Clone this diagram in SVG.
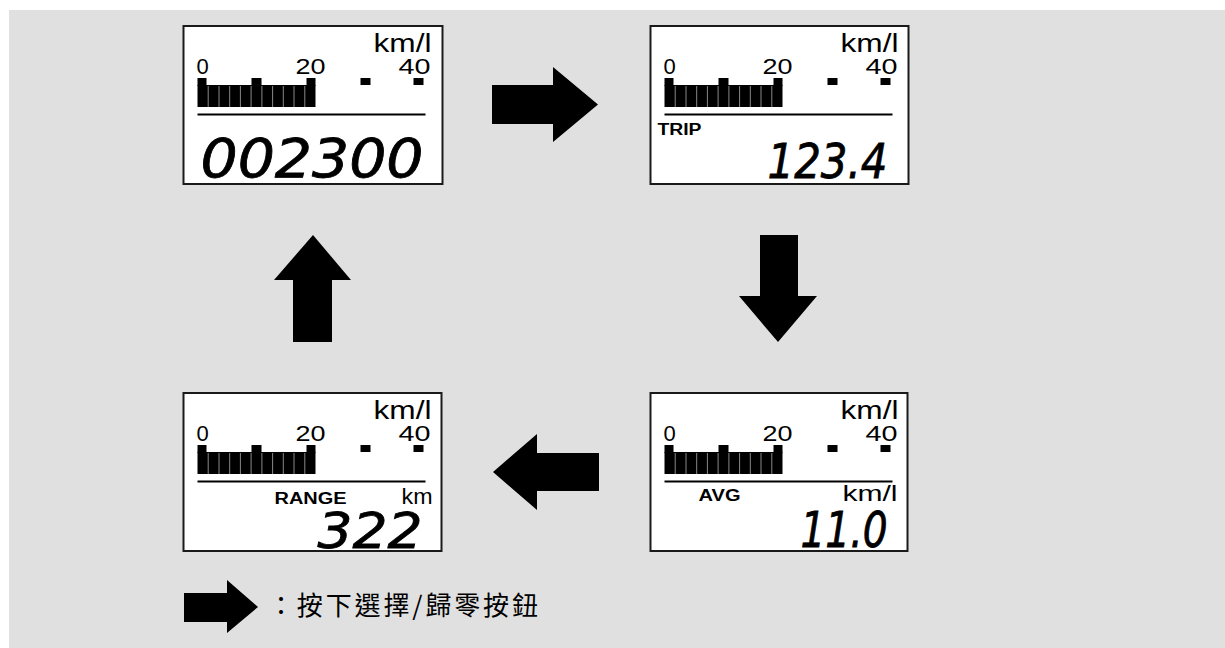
<svg xmlns="http://www.w3.org/2000/svg" xmlns:xlink="http://www.w3.org/1999/xlink" width="1225" height="648" viewBox="0 0 1225 648">
<style>
.bg{fill:#e0e0e0}
.box{fill:#fff;stroke:#1a1a1a;stroke-width:2}
.t{font-family:"Liberation Sans",Arial,sans-serif;fill:#000}
.sc{font-size:22px}
.unit{font-size:25px}
.lbl{font-size:16px;font-weight:bold}
.lcd{font-family:"DejaVu Sans",sans-serif;font-style:italic;fill:#000;stroke:#000;stroke-width:0.8}
.blk{fill:#000}
.gap{stroke:#888;stroke-width:1}
.rule{stroke:#000;stroke-width:2}
.arrow{fill:#000}
.cjk{font-family:"Noto Sans CJK TC","Noto Sans CJK SC",sans-serif;font-size:26px;fill:#000}
</style>
<defs>
<g id="scale">
<text class="t unit" x="248" y="26" text-anchor="end" textLength="58" lengthAdjust="spacingAndGlyphs">km/l</text>
<text class="t sc" x="19" y="48" text-anchor="middle">0</text>
<text class="t sc" x="127" y="48" text-anchor="middle" textLength="30" lengthAdjust="spacingAndGlyphs">20</text>
<text class="t sc" x="231" y="48" text-anchor="middle" textLength="32" lengthAdjust="spacingAndGlyphs">40</text>
<rect class="blk" x="14" y="52" width="9" height="8"/>
<rect class="blk" x="68" y="52" width="10" height="8"/>
<rect class="blk" x="123" y="52" width="9" height="8"/>
<rect class="blk" x="177" y="52" width="10" height="7"/>
<rect class="blk" x="230" y="52" width="10" height="7"/>
<rect class="blk" x="14" y="59" width="118" height="22"/>
<g class="gap">
<line x1="24.7" y1="60" x2="24.7" y2="81"/>
<line x1="35.5" y1="60" x2="35.5" y2="81"/>
<line x1="46.2" y1="60" x2="46.2" y2="81"/>
<line x1="56.9" y1="60" x2="56.9" y2="81"/>
<line x1="67.6" y1="60" x2="67.6" y2="81"/>
<line x1="78.4" y1="60" x2="78.4" y2="81"/>
<line x1="89.1" y1="60" x2="89.1" y2="81"/>
<line x1="99.8" y1="60" x2="99.8" y2="81"/>
<line x1="110.5" y1="60" x2="110.5" y2="81"/>
<line x1="121.3" y1="60" x2="121.3" y2="81"/>
</g>
<line class="rule" x1="14" y1="88.5" x2="242" y2="88.5"/>
</g>
</defs>
<rect class="bg" x="9" y="10" width="1216" height="638"/>

<g id="display-odo" transform="translate(183.5,26)">
<rect class="box" x="0" y="0" width="259" height="158"/>
<use xlink:href="#scale"/>
<text class="lcd" x="17" y="151" font-size="54" textLength="223" lengthAdjust="spacingAndGlyphs">002300</text>
</g>

<g id="display-trip" transform="translate(650.5,26)">
<rect class="box" x="0" y="0" width="258" height="158"/>
<use xlink:href="#scale"/>
<text class="t lbl" x="7" y="109" textLength="44" lengthAdjust="spacingAndGlyphs">TRIP</text>
<text class="lcd" x="117" y="152" font-size="48" textLength="120" lengthAdjust="spacingAndGlyphs">123.4</text>
</g>

<g id="display-avg" transform="translate(650.5,393)">
<rect class="box" x="0" y="0" width="257" height="158"/>
<use xlink:href="#scale"/>
<text class="t" x="48" y="108" font-size="16" font-weight="bold" textLength="42" lengthAdjust="spacingAndGlyphs">AVG</text>
<text class="t" x="247" y="108" font-size="22" text-anchor="end" textLength="55" lengthAdjust="spacingAndGlyphs">km/l</text>
<text class="lcd" x="150" y="154" font-size="50" textLength="87" lengthAdjust="spacingAndGlyphs">11.0</text>
</g>

<g id="display-range" transform="translate(183.5,393)">
<rect class="box" x="0" y="0" width="258" height="158"/>
<use xlink:href="#scale"/>
<text class="t lbl" x="91" y="111" textLength="72" lengthAdjust="spacingAndGlyphs">RANGE</text>
<text class="t" x="249" y="111" font-size="22" text-anchor="end" textLength="31" lengthAdjust="spacingAndGlyphs">km</text>
<text class="lcd" x="134" y="155" font-size="50" textLength="105" lengthAdjust="spacingAndGlyphs">322</text>
</g>

<g id="connectors">
<polygon class="arrow" points="492,85 553,85 553,67 598,104.5 553,142 553,124 492,124"/>
<polygon class="arrow" points="760,235 798,235 798,296 817,296 778,342 739,296 760,296"/>
<polygon class="arrow" points="599,453 537,453 537,434 493,472 537,510 537,491 599,491"/>
<polygon class="arrow" points="293,342 332,342 332,280 351,280 313,235 274,280 293,280"/>
</g>

<g id="legend">
<polygon class="arrow" points="184,593 227,593 227,580 258,607 227,633 227,622 184,622"/>
<text class="cjk" x="268" y="615" textLength="270" lengthAdjust="spacing">：按下選擇/歸零按鈕</text>
</g>
</svg>
